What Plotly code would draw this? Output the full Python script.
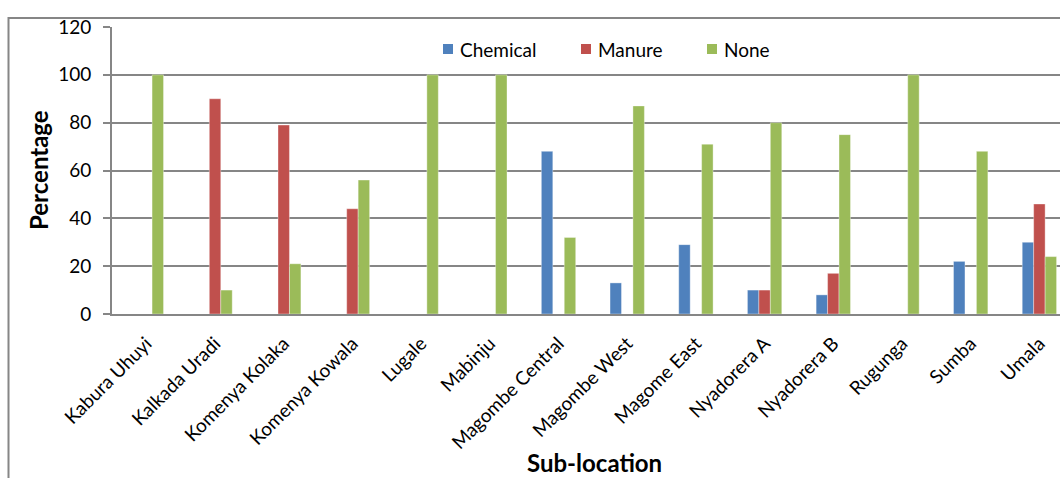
import plotly.graph_objects as go

sub_locations = [
    "Kabura Uhuyi", "Kalkada Uradi", "Komenya Kolaka", "Komenya Kowala",
    "Lugale", "Mabinju", "Magombe Central", "Magombe West", "Magome East",
    "Nyadorera A", "Nyadorera B", "Rugunga", "Sumba", "Umala",
]
chemical = [0, 0, 0, 0, 0, 0, 68, 13, 29, 10, 8, 0, 22, 30]
manure = [0, 90, 79, 44, 0, 0, 0, 0, 0, 10, 17, 0, 0, 46]
none = [100, 10, 21, 56, 100, 100, 32, 87, 71, 80, 75, 100, 68, 24]
y_ticks = [0, 20, 40, 60, 80, 100, 120]

FONT = "Lato, Carlito, Calibri, sans-serif"
W, H = 1060, 478
L, T, B = 112, 27, 164
plot_w = W - L
plot_h = H - T - B


def px_x(p):
    return (p - L) / plot_w


def px_y(p):
    return (H - B - p) / plot_h


series = [
    ("Chemical", chemical, "#4F81BD"),
    ("Manure", manure, "#C0504D"),
    ("None", none, "#9BBB59"),
]

fig = go.Figure()
for name, vals, color in series:
    fig.add_trace(go.Bar(
        x=sub_locations, y=vals, name=name, showlegend=False,
        marker=dict(color=color, line=dict(color="rgba(255,255,255,0.6)", width=0.6)),
    ))

# Horizontal legend: colour square followed by the series name
legend_slots = [443, 581, 707]
shapes = [
    dict(type="rect", xref="paper", yref="paper",
         x0=px_x(8.5), x1=px_x(1070), y0=px_y(18), y1=px_y(500),
         line=dict(color="#868686", width=2), fillcolor="rgba(0,0,0,0)",
         layer="below"),
]
annotations = [
    dict(text="<b>Percentage</b>", textangle=-90, xref="paper", yref="paper",
         x=px_x(38), y=px_y(170), xanchor="center", yanchor="middle",
         showarrow=False, font=dict(family=FONT, size=24, color="black")),
    dict(text="<b>Sub-location</b>", xref="paper", yref="paper",
         x=px_x(594), y=px_y(462), xanchor="center", yanchor="middle",
         showarrow=False, font=dict(family=FONT, size=24, color="black")),
]
for (name, _, color), sx in zip(series, legend_slots):
    shapes.append(dict(type="rect", xref="paper", yref="paper",
                       x0=px_x(sx), x1=px_x(sx + 10), y0=px_y(54), y1=px_y(44),
                       line=dict(width=0), fillcolor=color))
    annotations.append(dict(text=name, xref="paper", yref="paper",
                             x=px_x(sx + 15), y=px_y(49), xanchor="left",
                             yanchor="middle", showarrow=False,
                             font=dict(family=FONT, size=19, color="black")))

fig.update_layout(
    width=W, height=H,
    margin=dict(l=L, r=0, t=T, b=B, pad=0),
    paper_bgcolor="white", plot_bgcolor="white",
    barmode="group", bargap=0.5, bargroupgap=0,
    font=dict(family=FONT, size=19, color="black"),
    showlegend=False,
    xaxis=dict(
        range=[-0.5, 13.3], tickangle=-45, showgrid=False,
        showline=True, linecolor="#868686", linewidth=2,
        ticks="", ticklabelstandoff=9,
        tickfont=dict(family=FONT, size=19, color="black"),
    ),
    yaxis=dict(
        range=[0, 120], tickvals=y_ticks, showgrid=True,
        gridcolor="#868686", gridwidth=2,
        showline=True, linecolor="#868686", linewidth=2,
        ticks="outside", ticklen=7, tickcolor="#868686", tickwidth=2,
        ticklabelstandoff=8,
        tickfont=dict(family=FONT, size=19, color="black"),
        zeroline=False,
    ),
    annotations=annotations,
    shapes=shapes,
)

fig.write_html("out.html")
